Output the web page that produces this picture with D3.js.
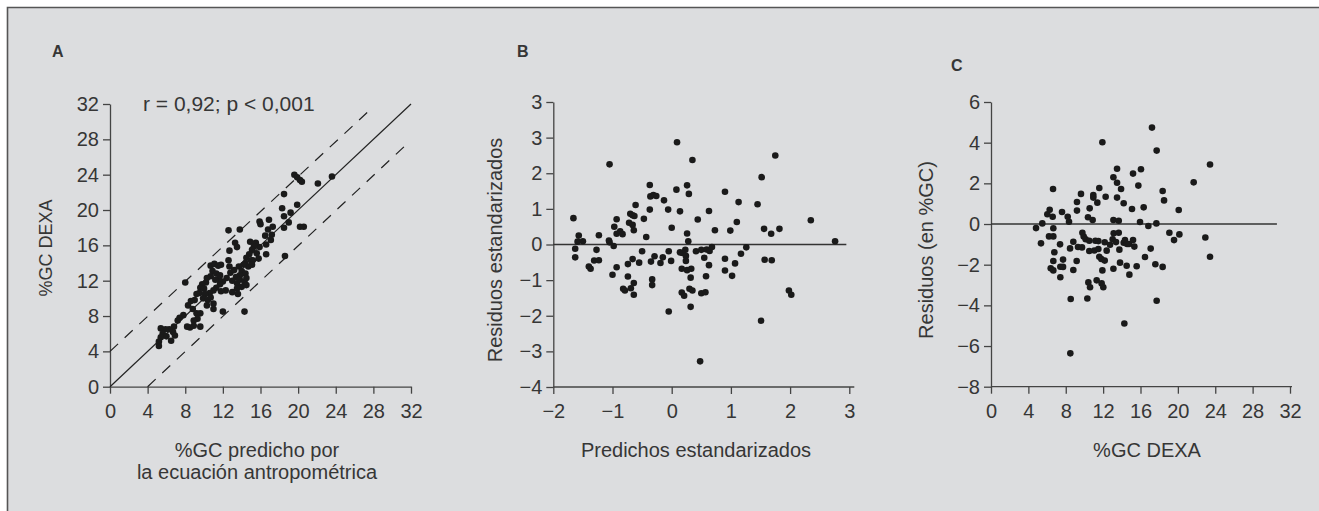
<!DOCTYPE html>
<html>
<head>
<meta charset="utf-8">
<script src="https://cdn.jsdelivr.net/npm/d3@7"></script>
<style>
  body { margin: 0; background: #fff; }
  svg text { font-family: "Liberation Sans", Arial, sans-serif; fill: #363636; }
</style>
</head>
<body>
<svg id="chart"></svg>
<script>
// values: [x, y]
var aPoints = [
  [19.6,24.0],[19.9,23.7],[20.2,23.4],[20.4,23.2],[22.1,23.0],[23.6,23.8],[18.5,21.8],[19.9,20.6],
  [18.3,20.2],[19.2,19.7],[18.5,19.3],[19.0,18.6],[18.5,18.0],[20.2,18.1],[20.6,18.1],[18.6,14.8],
  [12.6,17.7],[13.8,17.8],[15.9,18.7],[16.0,18.4],[16.9,18.9],[16.8,17.8],[17.3,18.1],[17.2,17.2],
  [16.5,17.1],[17.1,16.6],[16.6,16.1],[15.9,15.8],[15.5,16.3],[14.9,16.4],[15.3,15.9],[15.1,15.5],
  [15.6,15.1],[15.8,14.5],[16.6,15.0],[14.8,15.0],[14.5,14.6],[15.0,14.3],[13.3,16.3],[13.5,15.8],
  [12.7,15.4],[12.6,14.3],[12.7,13.6],[10.7,13.7],[11.1,13.9],[11.5,13.7],[11.8,13.8],[10.9,13.1],
  [10.7,12.5],[12.8,12.9],[13.2,13.2],[13.7,13.6],[14.0,13.1],[14.4,12.8],[13.8,12.6],[13.4,12.4],
  [13.0,12.0],[13.5,11.7],[13.8,12.1],[14.3,11.9],[14.0,11.3],[13.5,11.1],[13.0,10.7],[13.6,10.5],
  [14.3,8.5],[12.0,8.5],[12.4,12.3],[12.0,11.9],[11.7,11.6],[11.3,11.2],[11.0,10.9],[10.6,10.6],
  [11.6,12.1],[11.2,12.1],[10.3,12.3],[10.2,11.8],[9.8,11.6],[9.6,11.2],[10.0,11.1],[9.5,10.6],
  [10.1,10.5],[9.9,10.0],[10.4,9.8],[10.7,10.1],[11.0,9.4],[11.0,8.8],[9.2,10.5],[9.0,9.8],
  [8.6,9.7],[8.3,9.2],[8.8,8.8],[9.2,8.3],[9.6,8.3],[9.3,7.7],[8.9,7.5],[8.9,6.9],
  [8.5,6.7],[9.6,6.8],[8.2,6.8],[8.0,11.8],[7.8,8.1],[7.4,7.8],[7.2,7.5],[6.8,6.8],
  [6.7,6.2],[6.9,5.8],[6.5,5.2],[6.3,6.5],[5.9,6.5],[5.4,6.6],[5.6,6.0],[5.4,5.6],
  [5.2,5.1],[5.2,4.6],[6.0,5.7],[14.4,14.0],[15.2,14.3],[14.7,13.6],[14.2,13.8],[15.1,13.8],
  [14.5,12.3],[14.5,11.5],[12.3,10.9],[11.8,10.8],[10.3,9.2],[11.3,12.8],[11.7,12.6]
];

var bPoints = [
  [-1.66,0.74],[-1.63,-0.12],[-1.63,-0.36],[-1.57,0.25],[-1.59,0.08],[-1.50,0.09],[-1.40,-0.62],[-1.37,-0.68],
  [-1.27,-0.15],[-1.31,-0.45],[-1.23,-0.44],[-1.23,0.26],[-1.05,2.25],[-1.06,0.11],[-1.05,0.06],[-0.97,0.50],
  [-0.98,-0.04],[-0.93,0.71],[-0.93,0.30],[-0.87,0.37],[-0.83,0.29],[-0.93,-0.64],[-1.00,-0.85],[-0.82,-1.24],
  [-0.79,-1.29],[-0.74,-0.55],[-0.74,-0.90],[-0.72,0.61],[-0.70,0.86],[-0.66,0.82],[-0.63,0.80],[-0.66,0.55],
  [-0.64,0.40],[-0.61,1.11],[-0.66,-0.41],[-0.69,-1.23],[-0.64,-1.08],[-0.64,-1.41],[-0.55,-0.51],[-0.50,-0.19],
  [-0.47,0.72],[-0.43,0.21],[-0.37,0.98],[-0.37,1.67],[-0.36,1.35],[-0.31,1.39],[-0.26,1.36],[-0.35,-0.48],
  [-0.29,-0.33],[-0.33,-0.98],[-0.33,-1.14],[-0.19,-0.52],[-0.15,-0.36],[-0.13,1.24],[-0.06,0.98],[-0.05,-0.19],
  [-0.05,-1.88],[-0.01,-0.46],[0.00,0.47],[0.09,2.87],[0.08,1.54],[0.14,0.93],[0.14,-0.22],[0.18,-0.24],
  [0.23,-0.15],[0.24,-0.32],[0.26,1.66],[0.29,1.42],[0.26,0.31],[0.28,0.09],[0.17,-0.68],[0.24,-0.46],
  [0.26,-0.72],[0.33,-0.68],[0.32,-0.93],[0.30,-1.24],[0.35,-1.29],[0.32,-1.75],[0.17,-1.35],[0.21,-1.44],
  [0.35,2.37],[0.41,-0.19],[0.44,0.70],[0.48,-3.28],[0.50,-0.15],[0.50,-1.37],[0.57,-1.34],[0.55,-0.37],
  [0.58,-0.89],[0.59,-0.14],[0.63,0.94],[0.63,-0.58],[0.64,-0.18],[0.68,-0.07],[0.73,0.40],[0.90,1.48],
  [0.90,-0.40],[0.90,-0.73],[0.99,0.39],[1.02,-0.88],[1.07,-0.53],[1.10,0.63],[1.13,1.19],[1.17,-0.26],
  [1.26,-0.08],[1.45,1.13],[1.52,1.89],[1.56,0.44],[1.57,-0.43],[1.51,-2.14],[1.68,0.30],[1.69,-0.44],
  [1.75,2.50],[1.82,0.44],[1.98,-1.29],[2.02,-1.41],[2.35,0.68],[2.76,0.09]
];

var cPoints = [
  [4.82,-0.20],[5.35,-0.95],[5.49,0.03],[6.03,0.48],[6.28,0.70],[6.21,-0.61],[6.39,-2.18],[6.60,0.36],
  [6.64,1.72],[6.67,-0.21],[6.67,-0.61],[6.67,-1.82],[6.67,-2.28],[6.78,-1.39],[7.39,-1.00],[7.42,-2.10],
  [7.42,-2.62],[7.60,0.59],[7.71,-1.75],[7.71,-2.11],[8.21,0.36],[8.35,0.11],[8.46,-1.20],[8.53,-3.69],
  [8.49,-6.36],[8.81,-0.87],[8.81,-2.26],[9.20,1.08],[9.20,0.66],[9.17,-1.82],[9.31,-1.13],[9.63,1.48],
  [9.74,-1.15],[9.78,-0.43],[9.92,-0.62],[10.13,-0.75],[10.31,-3.66],[10.38,0.33],[10.42,-2.87],[10.52,-1.33],
  [10.56,0.77],[10.60,-3.11],[10.52,-0.82],[10.88,0.20],[10.95,1.43],[10.95,1.30],[11.06,-1.30],[11.17,-0.82],
  [11.38,1.05],[11.49,-0.84],[11.49,-1.23],[11.59,1.77],[11.31,-2.77],[11.59,-1.61],[11.81,-1.72],[11.84,-2.92],
  [11.92,4.02],[11.92,-2.28],[12.02,-3.11],[12.17,-0.90],[12.17,-1.80],[12.27,1.34],[12.38,-1.31],[12.74,-1.02],
  [13.02,-0.75],[13.10,0.20],[13.10,2.30],[13.10,-2.20],[13.13,-0.46],[13.38,-0.89],[13.49,2.72],[13.49,2.03],
  [13.49,1.30],[13.67,-0.43],[13.67,0.16],[13.74,-1.26],[13.81,-1.90],[13.92,1.72],[14.20,1.02],[14.20,-0.92],
  [14.34,-0.79],[14.27,-4.89],[14.52,-2.05],[14.81,-2.49],[14.56,-0.98],[14.77,-0.98],[15.09,0.74],[15.20,2.48],
  [15.20,-0.79],[15.34,-1.11],[15.59,-2.08],[15.77,1.89],[15.95,0.10],[16.05,2.69],[16.34,0.82],[16.48,-1.62],
  [16.84,-0.10],[17.09,-1.21],[17.23,4.74],[17.59,-1.98],[17.70,0.03],[17.73,3.61],[17.73,-3.77],[18.37,1.62],
  [18.37,-2.11],[18.52,1.16],[19.09,-0.43],[19.59,-0.79],[20.09,0.69],[20.16,-0.51],[21.69,2.05],[22.94,-0.66],
  [23.44,2.93],[23.44,-1.61]
];

var aTicks = [0, 4, 8, 12, 16, 20, 24, 28, 32];
var bXTicks = [-2, -1, 0, 1, 2, 3];
var bYTicks = [-4, -3, -2, -1, 0, 1, 2, 3, 4];
var bYLabels = ["\u22124", "\u22123", "\u22122", "\u22121", "0", "1", "2", "3", "3"]; // top label printed as 3 in the figure
var cYTicks = [-8, -6, -4, -2, 0, 2, 4, 6];
var cXTicks = [0, 4, 8, 12, 16, 20, 24, 28, 32];

var svg = d3.select("#chart").attr("width", 1319).attr("height", 511);

// panel background + frame (open on right and bottom)
svg.append("rect").attr("x", 7.5).attr("y", 7.5).attr("width", 1320).attr("height", 510)
  .attr("fill", "#dcdddf");
svg.append("path").attr("d", "M7.5,511V7.5H1319")
  .attr("fill", "none").attr("stroke", "#555").attr("stroke-width", 1.6);

function minus(d) { return d < 0 ? "\u2212" + Math.abs(d) : "" + d; }

function styleAxis(g) {
  g.selectAll("path.domain").attr("stroke", "#444").attr("stroke-width", 1.3);
  g.selectAll(".tick line").attr("stroke", "#444").attr("stroke-width", 1.3);
  g.selectAll(".tick text").attr("fill", "#363636")
    .style("font-family", "'Liberation Sans', Arial, sans-serif");
}

function panel(opts) {
  var x = d3.scaleLinear().domain(opts.xDomain).range(opts.xRange);
  var y = d3.scaleLinear().domain(opts.yDomain).range(opts.yRange);
  var g = svg.append("g");

  var gx = g.append("g")
    .attr("transform", "translate(0," + opts.yRange[0] + ")")
    .call(d3.axisBottom(x).tickValues(opts.xTicks).tickSize(7).tickSizeOuter(0)
      .tickPadding(10).tickFormat(minus));
  gx.selectAll(".tick text").attr("font-size", opts.fs);
  styleAxis(gx);
  if (opts.xExtra) {
    gx.select("path.domain").attr("d", "M" + opts.xRange[0] + ",0H" + (opts.xRange[1] + opts.xExtra));
  }

  var gy = g.append("g")
    .attr("transform", "translate(" + opts.xRange[0] + ",0)")
    .call(d3.axisLeft(y).tickValues(opts.yTicks).tickSize(7).tickSizeOuter(0)
      .tickPadding(4).tickFormat(opts.yFormat || minus));
  gy.selectAll(".tick text").attr("font-size", opts.fs);
  styleAxis(gy);

  if (opts.lines) opts.lines(g, x, y);

  g.append("g").selectAll("circle")
    .data(opts.points)
    .join("circle")
    .attr("cx", function(d) { return x(d[0]); })
    .attr("cy", function(d) { return y(d[1]); })
    .attr("r", 3.3)
    .attr("fill", "#1a1a1a");

  return { x: x, y: y, g: g };
}

// A
panel({
  xDomain: [0, 32], xRange: [110, 411], yDomain: [0, 32], yRange: [386.7, 104],
  xTicks: aTicks, yTicks: aTicks, fs: 20, points: aPoints,
  lines: function(g, x, y) {
    g.append("line").attr("x1", x(0)).attr("y1", y(0)).attr("x2", x(32)).attr("y2", y(32))
      .attr("stroke", "#222").attr("stroke-width", 1.2);
    g.append("line").attr("x1", x(0)).attr("y1", y(4)).attr("x2", x(27.6)).attr("y2", y(31.3))
      .attr("stroke", "#222").attr("stroke-width", 1.2).attr("stroke-dasharray", "11,9");
    g.append("line").attr("x1", x(4)).attr("y1", y(0)).attr("x2", x(31.6)).attr("y2", y(27.5))
      .attr("stroke", "#222").attr("stroke-width", 1.2).attr("stroke-dasharray", "11,9");
  }
});

// B
panel({
  xDomain: [-2, 3], xRange: [553.3, 849.3], yDomain: [-4, 4], yRange: [387, 102],
  xTicks: bXTicks, yTicks: bYTicks, fs: 20, points: bPoints, xExtra: 5,
  yFormat: function(d) { return bYLabels[bYTicks.indexOf(d)]; },
  lines: function(g, x, y) {
    g.append("line").attr("x1", x(-2)).attr("y1", y(0)).attr("x2", x(2.95)).attr("y2", y(0))
      .attr("stroke", "#333").attr("stroke-width", 1.4);
  }
});

// C
panel({
  xDomain: [0, 32], xRange: [991, 1290], yDomain: [-8, 6], yRange: [386.7, 102],
  xTicks: cXTicks, yTicks: cYTicks, fs: 20, points: cPoints, xExtra: 2,
  lines: function(g, x, y) {
    g.append("line").attr("x1", x(0)).attr("y1", y(0)).attr("x2", x(30.6)).attr("y2", y(0))
      .attr("stroke", "#333").attr("stroke-width", 1.4);
  }
});

// texts
function label(txt, x, y, size, anchor, rotate, weight) {
  var t = svg.append("text").text(txt)
    .attr("font-size", size)
    .attr("text-anchor", anchor || "middle")
    .attr("font-weight", weight || "normal");
  if (rotate) t.attr("transform", "translate(" + x + "," + y + ") rotate(-90)");
  else t.attr("x", x).attr("y", y);
  return t;
}

label("A", 52, 57, 16, "start", false, "bold");
label("B", 517, 57, 16, "start", false, "bold");
label("C", 951, 71, 16, "start", false, "bold");

label("r = 0,92; p < 0,001", 143, 111, 21, "start");
label("%GC DEXA", 52, 248, 18, "middle", true);
label("%GC predicho por", 257, 457, 20);
label("la ecuación antropométrica", 257, 479, 20);

label("Residuos estandarizados", 502, 250, 20, "middle", true);
label("Predichos estandarizados", 696, 457, 20);

label("Residuos (en %GC)", 933, 250, 20, "middle", true);
label("%GC DEXA", 1147, 457, 20);
</script>
</body>
</html>
